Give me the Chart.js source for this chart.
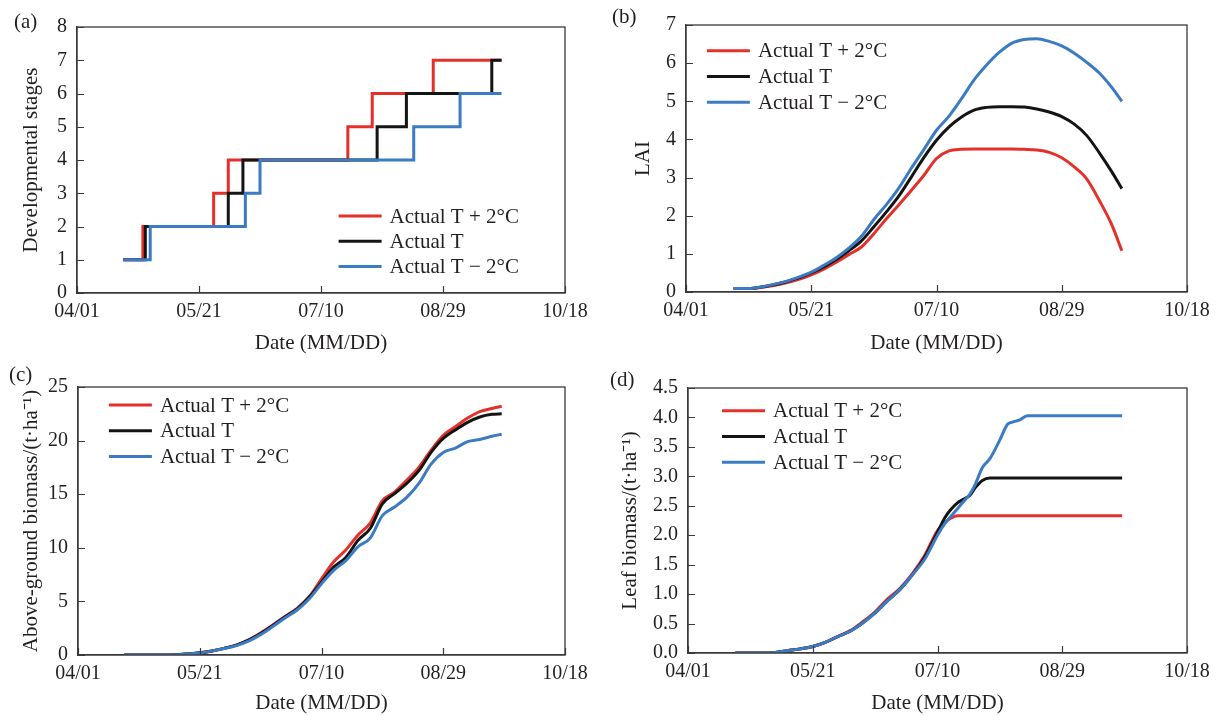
<!DOCTYPE html>
<html><head><meta charset="utf-8">
<script src="https://cdn.jsdelivr.net/npm/chart.js@4.4.1/dist/chart.umd.min.js"></script>
<style>
html,body{margin:0;padding:0;background:#fff;width:1221px;height:715px;overflow:hidden;}
.panel{position:absolute;}
.lab{position:absolute;font-family:"Liberation Serif","Times New Roman",serif;font-size:21px;line-height:24px;color:#231f20;}
</style></head><body>
<div class="panel" style="left:0;top:0;"><canvas id="ca" width="600" height="360"></canvas></div>
<div class="panel" style="left:600px;top:0;"><canvas id="cb" width="621" height="360"></canvas></div>
<div class="panel" style="left:0;top:360px;"><canvas id="cc" width="600" height="358"></canvas></div>
<div class="panel" style="left:600px;top:360px;"><canvas id="cd" width="621" height="358"></canvas></div>
<div class="lab" style="left:14px;top:9px;">(a)</div>
<div class="lab" style="left:612px;top:4px;">(b)</div>
<div class="lab" style="left:9px;top:362px;">(c)</div>
<div class="lab" style="left:610px;top:367px;">(d)</div>
<script>
// ---------- data ----------
const seriesNames = ['Actual T + 2°C', 'Actual T', 'Actual T \u2212 2°C'];
const xTickLabels = ['04/01', '05/21', '07/10', '08/29', '10/18']; // every 50 days from 04/01

// (a) developmental stages: day (from 04/01) at which each stage begins
const stageDaysWarm = [19, 27, 56, 62, 111, 121, 146, 174];
const stageValsWarm = [1, 2, 3, 4, 5, 6, 7, 7];
const stageDaysActual = [19, 28, 62, 68, 123, 135, 170, 174];
const stageValsActual = [1, 2, 3, 4, 5, 6, 7, 7];
const stageDaysCool = [19, 30, 69, 75, 138, 157, 174];
const stageValsCool = [1, 2, 3, 4, 5, 6, 6];

// (b) LAI
const laiDays = [19, 25, 30, 35, 40, 45, 50, 55, 60, 65, 70, 75, 80, 85, 90, 95, 100, 105, 110, 115, 120, 125, 130, 135, 140, 145, 150, 155, 160, 165, 170, 174];
const laiWarm   = [0.09, 0.09, 0.12, 0.17, 0.24, 0.33, 0.45, 0.60, 0.78, 0.98, 1.18, 1.53, 1.92, 2.29, 2.67, 3.06, 3.50, 3.70, 3.74, 3.75, 3.75, 3.75, 3.75, 3.74, 3.72, 3.66, 3.52, 3.28, 2.96, 2.40, 1.76, 1.08];
const laiActual = [0.09, 0.09, 0.13, 0.19, 0.27, 0.37, 0.50, 0.66, 0.85, 1.08, 1.34, 1.71, 2.10, 2.52, 3.02, 3.53, 3.98, 4.33, 4.59, 4.77, 4.84, 4.86, 4.86, 4.85, 4.80, 4.72, 4.60, 4.40, 4.10, 3.65, 3.15, 2.71];
const laiCool   = [0.09, 0.09, 0.13, 0.20, 0.28, 0.39, 0.52, 0.70, 0.90, 1.15, 1.46, 1.90, 2.29, 2.73, 3.25, 3.74, 4.24, 4.61, 5.07, 5.56, 5.95, 6.28, 6.52, 6.62, 6.64, 6.57, 6.45, 6.26, 6.02, 5.74, 5.36, 5.00];

// (c) above-ground biomass (t/ha)
const agbDays = [19, 25, 30, 35, 40, 45, 50, 55, 60, 65, 70, 75, 80, 85, 90, 95, 100, 105, 110, 115, 120, 125, 130, 135, 140, 145, 150, 155, 160, 165, 170, 174];
const agbWarm   = [0, 0, 0, 0, 0.02, 0.10, 0.20, 0.38, 0.62, 0.92, 1.40, 2.05, 2.80, 3.60, 4.35, 5.45, 7.10, 8.70, 9.80, 11.2, 12.3, 14.4, 15.2, 16.3, 17.5, 19.1, 20.5, 21.3, 22.1, 22.7, 23.0, 23.2];
const agbActual = [0, 0, 0, 0, 0.02, 0.10, 0.20, 0.37, 0.62, 0.92, 1.38, 2.00, 2.75, 3.55, 4.30, 5.40, 6.80, 8.20, 9.10, 10.7, 11.8, 14.1, 15.05, 16.0, 17.2, 18.9, 20.2, 21.0, 21.7, 22.2, 22.45, 22.5];
const agbCool   = [0, 0, 0, 0, 0.02, 0.10, 0.19, 0.36, 0.60, 0.88, 1.30, 1.90, 2.65, 3.45, 4.20, 5.25, 6.65, 7.90, 8.80, 10.1, 10.9, 13.0, 13.8, 14.7, 16.0, 17.8, 18.9, 19.3, 19.9, 20.1, 20.4, 20.6];

// (d) leaf biomass (t/ha)
const leafDays = [19, 30, 35, 40, 45, 50, 55, 60, 65, 70, 75, 80, 85, 90, 95, 100, 103, 105, 108, 110, 113, 115, 118, 121, 125, 128, 130, 133, 136, 140, 150, 160, 174];
const leafWarm   = [0, 0, 0.01, 0.04, 0.07, 0.11, 0.18, 0.28, 0.38, 0.53, 0.70, 0.92, 1.10, 1.35, 1.67, 2.08, 2.22, 2.28, 2.33, 2.33, 2.33, 2.33, 2.33, 2.33, 2.33, 2.33, 2.33, 2.33, 2.33, 2.33, 2.33, 2.33, 2.33];
const leafActual = [0, 0, 0.01, 0.04, 0.07, 0.11, 0.18, 0.28, 0.37, 0.51, 0.68, 0.89, 1.08, 1.33, 1.64, 2.05, 2.30, 2.42, 2.55, 2.60, 2.68, 2.80, 2.93, 2.97, 2.97, 2.97, 2.97, 2.97, 2.97, 2.97, 2.97, 2.97, 2.97];
const leafCool   = [0, 0, 0.01, 0.04, 0.07, 0.11, 0.18, 0.28, 0.37, 0.51, 0.68, 0.89, 1.08, 1.33, 1.60, 2.00, 2.20, 2.30, 2.45, 2.55, 2.70, 2.85, 3.15, 3.30, 3.62, 3.88, 3.92, 3.96, 4.03, 4.03, 4.03, 4.03, 4.03];

// ---------- styling ----------
const colors = ['#e5302a', '#141414', '#3b7bc4'];
const FONT = '"Liberation Serif", "Times New Roman", serif';
const TXT = '#231f20';
const AXIS = '#3a3a3a';
Chart.defaults.font.family = FONT;
Chart.defaults.color = TXT;

const pts = (xs, ys) => xs.map((x, i) => ({x: x, y: ys[i]}));

// box round the plot area plus inward tick marks, placed through the chart's own scales
const frame = {
  id: 'frame',
  afterDraw(chart) {
    const {ctx, chartArea: a, scales} = chart;
    ctx.save();
    ctx.strokeStyle = AXIS;
    ctx.lineWidth = 1.3;
    ctx.strokeRect(a.left, a.top, a.right - a.left, a.bottom - a.top);
    ctx.lineWidth = 1.2;
    ctx.beginPath();
    scales.x.ticks.forEach(t => {
      const px = Math.round(scales.x.getPixelForValue(t.value)) + 0.5;
      ctx.moveTo(px, a.bottom); ctx.lineTo(px, a.bottom - 7);
    });
    scales.y.ticks.forEach(t => {
      const py = Math.round(scales.y.getPixelForValue(t.value)) + 0.5;
      ctx.moveTo(a.left, py); ctx.lineTo(a.left + 7, py);
    });
    ctx.stroke();
    ctx.restore();
  }
};

const insideLegend = {
  id: 'insideLegend',
  afterDraw(chart, args, o) {
    const {ctx, chartArea} = chart;
    ctx.save();
    ctx.font = '21px ' + FONT;
    ctx.textBaseline = 'middle';
    ctx.textAlign = 'left';
    chart.data.datasets.forEach((ds, i) => {
      const x = chartArea.left + o.x;
      const y = chartArea.top + o.y + i * o.row;
      ctx.strokeStyle = ds.borderColor;
      ctx.lineWidth = 3;
      ctx.beginPath(); ctx.moveTo(x, y); ctx.lineTo(x + o.len, y); ctx.stroke();
      ctx.fillStyle = TXT;
      ctx.fillText(ds.label, x + o.len + o.gap, y + 1);
    });
    ctx.restore();
  }
};

function makeChart(id, seriesPts, cfg) {
  const datasets = seriesPts.map((p, i) => ({
    label: seriesNames[i],
    data: p,
    borderColor: colors[i],
    backgroundColor: colors[i],
    borderWidth: 3,
    pointRadius: 0,
    stepped: cfg.stepped || false,
    cubicInterpolationMode: cfg.stepped ? 'default' : 'monotone',
    order: 2 - i
  }));
  return new Chart(document.getElementById(id), {
    type: 'line',
    data: {datasets},
    plugins: [frame, insideLegend],
    options: {
      responsive: false,
      animation: false,
      events: [],
      layout: {padding: cfg.pad},
      plugins: {
        legend: {display: false},
        tooltip: {enabled: false},
        insideLegend: cfg.legend
      },
      scales: {
        x: {
          type: 'linear', min: 0, max: 200,
          afterFit: s => { s.height = cfg.xHeight; },
          border: {display: true, color: AXIS, width: 1.3},
          grid: {display: false, drawOnChartArea: false, drawTicks: false},
          ticks: {stepSize: 50, padding: 7, maxRotation: 0, autoSkip: false,
                  font: {size: 20}, color: TXT,
                  callback: v => xTickLabels[Math.round(v / 50)]},
          title: {display: true, text: 'Date (MM/DD)', font: {size: 21}, color: TXT,
                  padding: {top: 0, bottom: cfg.xTitlePad}}
        },
        y: {
          type: 'linear', min: cfg.yMin, max: cfg.yMax,
          afterFit: s => { s.width = cfg.yWidth; },
          border: {display: true, color: AXIS, width: 1.3},
          grid: {display: false, drawOnChartArea: false, drawTicks: false},
          ticks: {stepSize: cfg.yStep, padding: 10, autoSkip: false, font: {size: 20}, color: TXT,
                  callback: cfg.yFmt},
          title: {display: true, text: cfg.yTitle, font: {size: 21}, color: TXT,
                  padding: {top: cfg.yTitlePad, bottom: 0}}
        }
      }
    }
  });
}

makeChart('ca', [pts(stageDaysWarm, stageValsWarm), pts(stageDaysActual, stageValsActual), pts(stageDaysCool, stageValsCool)], {
  stepped: 'before', pad: {left: 0, top: 27, right: 35, bottom: 0}, xHeight: 67, yWidth: 77,
  yMin: 0, yMax: 8, yStep: 1, yFmt: v => String(v), yTitle: 'Developmental stages',
  yTitlePad: 18.4, xTitlePad: 4.4, legend: {x: 261.6, y: 189, row: 25.3, len: 43, gap: 8}
});
makeChart('cb', [pts(laiDays, laiWarm), pts(laiDays, laiActual), pts(laiDays, laiCool)], {
  pad: {left: 0, top: 25, right: 34, bottom: 0}, xHeight: 68, yWidth: 86,
  yMin: 0, yMax: 7, yStep: 1, yFmt: v => String(v), yTitle: 'LAI',
  yTitlePad: 30.9, xTitlePad: 4.4, legend: {x: 20.9, y: 25.7, row: 25.8, len: 43, gap: 8}
});
makeChart('cc', [pts(agbDays, agbWarm), pts(agbDays, agbActual), pts(agbDays, agbCool)], {
  pad: {left: 0, top: 27, right: 35, bottom: 0}, xHeight: 63, yWidth: 78,
  yMin: 0, yMax: 25, yStep: 5, yFmt: v => String(v), yTitle: 'Above-ground biomass/(t\u00b7ha\u207b\u00b9)',
  yTitlePad: 18.4, xTitlePad: 1.8, legend: {x: 30.9, y: 18, row: 25.8, len: 43, gap: 8}
});
makeChart('cd', [pts(leafDays, leafWarm), pts(leafDays, leafActual), pts(leafDays, leafCool)], {
  pad: {left: 0, top: 28, right: 34, bottom: 0}, xHeight: 65, yWidth: 88,
  yMin: 0, yMax: 4.5, yStep: 0.5, yFmt: v => v.toFixed(1), yTitle: 'Leaf biomass/(t\u00b7ha\u207b\u00b9)',
  yTitlePad: 17.4, xTitlePad: 1.8, legend: {x: 34, y: 22.7, row: 25.8, len: 43, gap: 8}
});
</script>
</body></html>
